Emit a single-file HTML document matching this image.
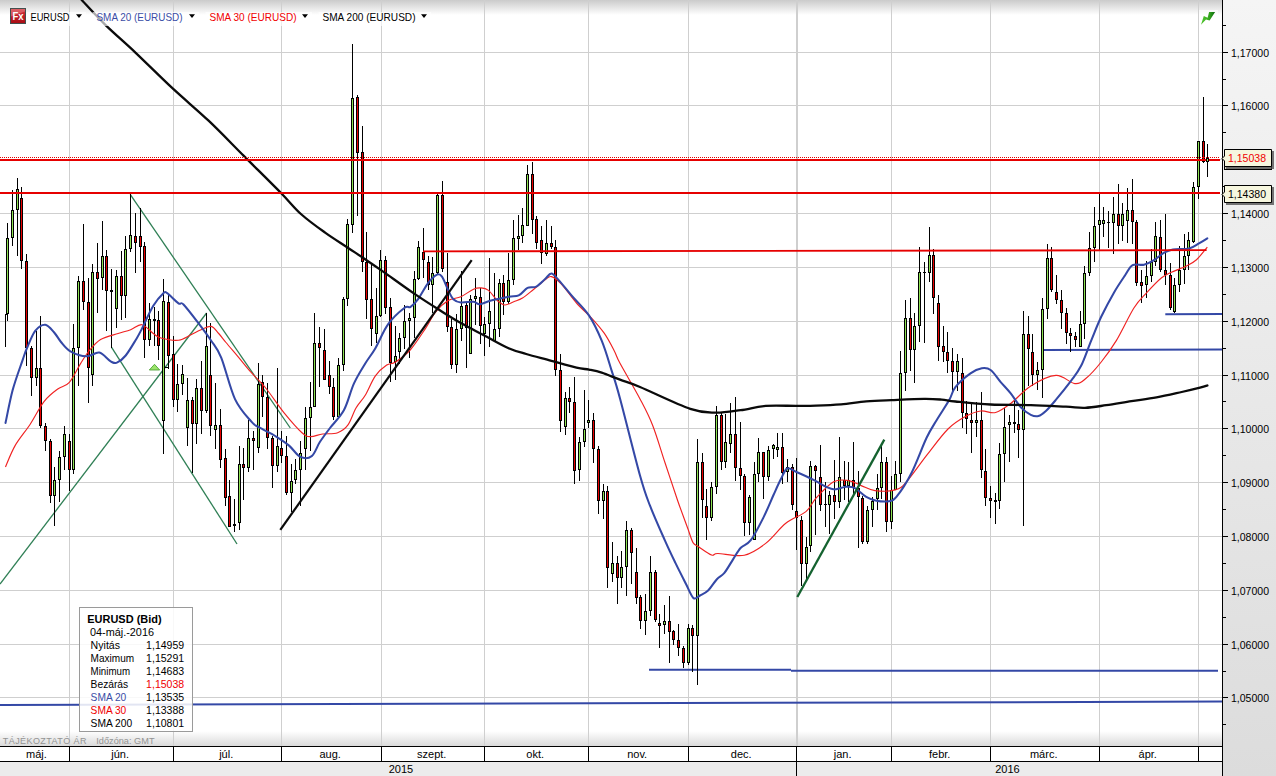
<!DOCTYPE html><html><head><meta charset="utf-8"><title>EURUSD</title><style>html,body{margin:0;padding:0;background:#fff;overflow:hidden}svg{display:block}text{font-family:"Liberation Sans",sans-serif}</style></head><body>
<svg width="1276" height="776" viewBox="0 0 1276 776">
<defs><linearGradient id="gt" x1="0" y1="0" x2="0" y2="1"><stop offset="0" stop-color="#cbcbcb"/><stop offset="1" stop-color="#ffffff"/></linearGradient><linearGradient id="gb" x1="0" y1="0" x2="0" y2="1"><stop offset="0" stop-color="#ffffff"/><stop offset="1" stop-color="#dadada"/></linearGradient><linearGradient id="gr" x1="0" y1="0" x2="0" y2="1"><stop offset="0" stop-color="#f5f5f5"/><stop offset="1" stop-color="#dcdcdc"/></linearGradient><linearGradient id="gfx" x1="0" y1="0" x2="0" y2="1"><stop offset="0" stop-color="#d8343c"/><stop offset="1" stop-color="#a80c14"/></linearGradient><linearGradient id="gic" x1="0" y1="0" x2="1" y2="0"><stop offset="0" stop-color="#4fc42c"/><stop offset="0.5" stop-color="#3cae22"/><stop offset="1" stop-color="#0c6a0c"/></linearGradient><clipPath id="cp"><rect x="0" y="0" width="1222" height="746"/></clipPath></defs>
<rect x="0" y="0" width="1276" height="776" fill="#ffffff"/>
<rect x="0" y="0" width="1222" height="15" fill="url(#gt)"/>
<rect x="0" y="731" width="1222" height="15" fill="url(#gb)"/>
<rect x="1223" y="0" width="53" height="776" fill="url(#gr)"/>
<g shape-rendering="crispEdges" stroke="#cfcfcf" stroke-width="1">
<line x1="69.5" y1="0" x2="69.5" y2="746"/>
<line x1="173.5" y1="0" x2="173.5" y2="746"/>
<line x1="281.5" y1="0" x2="281.5" y2="746"/>
<line x1="381.5" y1="0" x2="381.5" y2="746"/>
<line x1="484.5" y1="0" x2="484.5" y2="746"/>
<line x1="588.5" y1="0" x2="588.5" y2="746"/>
<line x1="688.5" y1="0" x2="688.5" y2="746"/>
<line x1="796.5" y1="0" x2="796.5" y2="746"/>
<line x1="891.5" y1="0" x2="891.5" y2="746"/>
<line x1="990.5" y1="0" x2="990.5" y2="746"/>
<line x1="1099.5" y1="0" x2="1099.5" y2="746"/>
<line x1="1198.5" y1="0" x2="1198.5" y2="746"/>
<line x1="797.5" y1="0" x2="797.5" y2="746"/>
<line x1="0" y1="52.5" x2="1222" y2="52.5"/>
<line x1="0" y1="105.5" x2="1222" y2="105.5"/>
<line x1="0" y1="159.5" x2="1222" y2="159.5"/>
<line x1="0" y1="213.5" x2="1222" y2="213.5"/>
<line x1="0" y1="267.5" x2="1222" y2="267.5"/>
<line x1="0" y1="321.5" x2="1222" y2="321.5"/>
<line x1="0" y1="375.5" x2="1222" y2="375.5"/>
<line x1="0" y1="428.5" x2="1222" y2="428.5"/>
<line x1="0" y1="482.5" x2="1222" y2="482.5"/>
<line x1="0" y1="536.5" x2="1222" y2="536.5"/>
<line x1="0" y1="590.5" x2="1222" y2="590.5"/>
<line x1="0" y1="644.5" x2="1222" y2="644.5"/>
<line x1="0" y1="697.5" x2="1222" y2="697.5"/>
</g>
<g clip-path="url(#cp)">
<g stroke="#3448a6" stroke-width="2" fill="none">
<line x1="0" y1="704.9" x2="1222" y2="701.6"/>
<line x1="649" y1="669.7" x2="791" y2="669.7"/><line x1="791" y1="670.8" x2="1218" y2="670.8"/>
<line x1="1042.6" y1="350" x2="1222" y2="349.5"/>
<line x1="1165.3" y1="314.3" x2="1222" y2="314"/>
</g>
<g stroke="#2f7f55" stroke-width="1.3" fill="none">
<line x1="0" y1="584" x2="206.6" y2="313"/>
<line x1="130.2" y1="194.4" x2="290.3" y2="428"/>
<line x1="111.6" y1="347.4" x2="237" y2="544"/>
</g>
<g shape-rendering="crispEdges">
<rect x="7" y="223" width="1" height="98" fill="#000"/>
<rect x="6" y="238" width="3" height="76" fill="#000"/>
<rect x="7" y="239" width="1" height="74" fill="#8ee253"/>
<rect x="12" y="190" width="1" height="56" fill="#000"/>
<rect x="11" y="210" width="3" height="28" fill="#000"/>
<rect x="12" y="211" width="1" height="26" fill="#8ee253"/>
<rect x="17" y="178" width="1" height="78" fill="#000"/>
<rect x="16" y="189" width="3" height="21" fill="#000"/>
<rect x="17" y="190" width="1" height="19" fill="#8ee253"/>
<rect x="21" y="187" width="1" height="82" fill="#000"/>
<rect x="20" y="198" width="3" height="63" fill="#000"/>
<rect x="21" y="199" width="1" height="61" fill="#e80000"/>
<rect x="26" y="254" width="1" height="112" fill="#000"/>
<rect x="25" y="261" width="3" height="87" fill="#000"/>
<rect x="26" y="262" width="1" height="85" fill="#e80000"/>
<rect x="31" y="346" width="1" height="50" fill="#000"/>
<rect x="30" y="348" width="3" height="30" fill="#000"/>
<rect x="31" y="349" width="1" height="28" fill="#e80000"/>
<rect x="36" y="331" width="1" height="55" fill="#000"/>
<rect x="35" y="368" width="3" height="10" fill="#000"/>
<rect x="36" y="369" width="1" height="8" fill="#8ee253"/>
<rect x="40" y="316" width="1" height="112" fill="#000"/>
<rect x="39" y="368" width="3" height="58" fill="#000"/>
<rect x="40" y="369" width="1" height="56" fill="#e80000"/>
<rect x="45" y="423" width="1" height="28" fill="#000"/>
<rect x="44" y="426" width="3" height="15" fill="#000"/>
<rect x="45" y="427" width="1" height="13" fill="#e80000"/>
<rect x="50" y="439" width="1" height="64" fill="#000"/>
<rect x="49" y="441" width="3" height="55" fill="#000"/>
<rect x="50" y="442" width="1" height="53" fill="#e80000"/>
<rect x="54" y="467" width="1" height="59" fill="#000"/>
<rect x="53" y="480" width="3" height="16" fill="#000"/>
<rect x="54" y="481" width="1" height="14" fill="#8ee253"/>
<rect x="59" y="451" width="1" height="51" fill="#000"/>
<rect x="58" y="457" width="3" height="23" fill="#000"/>
<rect x="59" y="458" width="1" height="21" fill="#8ee253"/>
<rect x="64" y="426" width="1" height="44" fill="#000"/>
<rect x="63" y="434" width="3" height="23" fill="#000"/>
<rect x="64" y="435" width="1" height="21" fill="#8ee253"/>
<rect x="69" y="434" width="1" height="57" fill="#000"/>
<rect x="68" y="441" width="3" height="29" fill="#000"/>
<rect x="69" y="442" width="1" height="27" fill="#e80000"/>
<rect x="73" y="324" width="1" height="150" fill="#000"/>
<rect x="72" y="348" width="3" height="122" fill="#000"/>
<rect x="73" y="349" width="1" height="120" fill="#8ee253"/>
<rect x="78" y="276" width="1" height="110" fill="#000"/>
<rect x="77" y="281" width="3" height="67" fill="#000"/>
<rect x="78" y="282" width="1" height="65" fill="#8ee253"/>
<rect x="83" y="224" width="1" height="86" fill="#000"/>
<rect x="82" y="281" width="3" height="21" fill="#000"/>
<rect x="83" y="282" width="1" height="19" fill="#e80000"/>
<rect x="88" y="278" width="1" height="125" fill="#000"/>
<rect x="87" y="302" width="3" height="66" fill="#000"/>
<rect x="88" y="303" width="1" height="64" fill="#e80000"/>
<rect x="92" y="264" width="1" height="122" fill="#000"/>
<rect x="91" y="272" width="3" height="103" fill="#000"/>
<rect x="92" y="273" width="1" height="101" fill="#8ee253"/>
<rect x="97" y="243" width="1" height="70" fill="#000"/>
<rect x="96" y="272" width="3" height="7" fill="#000"/>
<rect x="97" y="273" width="1" height="5" fill="#e80000"/>
<rect x="102" y="221" width="1" height="69" fill="#000"/>
<rect x="101" y="256" width="3" height="22" fill="#000"/>
<rect x="102" y="257" width="1" height="20" fill="#8ee253"/>
<rect x="106" y="250" width="1" height="81" fill="#000"/>
<rect x="105" y="256" width="3" height="35" fill="#000"/>
<rect x="106" y="257" width="1" height="33" fill="#e80000"/>
<rect x="111" y="269" width="1" height="79" fill="#000"/>
<rect x="110" y="290" width="3" height="2" fill="#000"/>
<rect x="116" y="270" width="1" height="58" fill="#000"/>
<rect x="115" y="276" width="3" height="33" fill="#000"/>
<rect x="116" y="277" width="1" height="31" fill="#8ee253"/>
<rect x="121" y="251" width="1" height="69" fill="#000"/>
<rect x="120" y="276" width="3" height="20" fill="#000"/>
<rect x="121" y="277" width="1" height="18" fill="#e80000"/>
<rect x="125" y="236" width="1" height="82" fill="#000"/>
<rect x="124" y="249" width="3" height="47" fill="#000"/>
<rect x="125" y="250" width="1" height="45" fill="#8ee253"/>
<rect x="130" y="194" width="1" height="58" fill="#000"/>
<rect x="129" y="235" width="3" height="14" fill="#000"/>
<rect x="130" y="236" width="1" height="12" fill="#8ee253"/>
<rect x="135" y="213" width="1" height="60" fill="#000"/>
<rect x="134" y="236" width="3" height="7" fill="#000"/>
<rect x="135" y="237" width="1" height="5" fill="#e80000"/>
<rect x="140" y="208" width="1" height="54" fill="#000"/>
<rect x="139" y="236" width="3" height="11" fill="#000"/>
<rect x="140" y="237" width="1" height="9" fill="#e80000"/>
<rect x="144" y="242" width="1" height="116" fill="#000"/>
<rect x="143" y="246" width="3" height="94" fill="#000"/>
<rect x="144" y="247" width="1" height="92" fill="#e80000"/>
<rect x="149" y="303" width="1" height="43" fill="#000"/>
<rect x="148" y="319" width="3" height="21" fill="#000"/>
<rect x="149" y="320" width="1" height="19" fill="#8ee253"/>
<rect x="154" y="307" width="1" height="39" fill="#000"/>
<rect x="153" y="319" width="3" height="2" fill="#000"/>
<rect x="158" y="311" width="1" height="49" fill="#000"/>
<rect x="157" y="320" width="3" height="26" fill="#000"/>
<rect x="158" y="321" width="1" height="24" fill="#e80000"/>
<rect x="163" y="279" width="1" height="175" fill="#000"/>
<rect x="162" y="301" width="3" height="120" fill="#000"/>
<rect x="163" y="302" width="1" height="118" fill="#8ee253"/>
<rect x="168" y="295" width="1" height="74" fill="#000"/>
<rect x="167" y="302" width="3" height="54" fill="#000"/>
<rect x="168" y="303" width="1" height="52" fill="#e80000"/>
<rect x="173" y="336" width="1" height="71" fill="#000"/>
<rect x="172" y="354" width="3" height="46" fill="#000"/>
<rect x="173" y="355" width="1" height="44" fill="#e80000"/>
<rect x="177" y="364" width="1" height="48" fill="#000"/>
<rect x="176" y="384" width="3" height="16" fill="#000"/>
<rect x="177" y="385" width="1" height="14" fill="#8ee253"/>
<rect x="182" y="365" width="1" height="30" fill="#000"/>
<rect x="181" y="374" width="3" height="10" fill="#000"/>
<rect x="182" y="375" width="1" height="8" fill="#8ee253"/>
<rect x="187" y="378" width="1" height="68" fill="#000"/>
<rect x="186" y="400" width="3" height="28" fill="#000"/>
<rect x="187" y="401" width="1" height="26" fill="#8ee253"/>
<rect x="192" y="397" width="1" height="76" fill="#000"/>
<rect x="191" y="400" width="3" height="24" fill="#000"/>
<rect x="192" y="401" width="1" height="22" fill="#e80000"/>
<rect x="196" y="379" width="1" height="65" fill="#000"/>
<rect x="195" y="388" width="3" height="36" fill="#000"/>
<rect x="196" y="389" width="1" height="34" fill="#8ee253"/>
<rect x="201" y="361" width="1" height="73" fill="#000"/>
<rect x="200" y="388" width="3" height="23" fill="#000"/>
<rect x="201" y="389" width="1" height="21" fill="#e80000"/>
<rect x="206" y="313" width="1" height="100" fill="#000"/>
<rect x="205" y="346" width="3" height="65" fill="#000"/>
<rect x="206" y="347" width="1" height="63" fill="#8ee253"/>
<rect x="210" y="323" width="1" height="113" fill="#000"/>
<rect x="209" y="375" width="3" height="51" fill="#000"/>
<rect x="210" y="376" width="1" height="49" fill="#e80000"/>
<rect x="215" y="383" width="1" height="66" fill="#000"/>
<rect x="214" y="425" width="3" height="5" fill="#000"/>
<rect x="215" y="426" width="1" height="3" fill="#8ee253"/>
<rect x="220" y="409" width="1" height="59" fill="#000"/>
<rect x="219" y="425" width="3" height="35" fill="#000"/>
<rect x="220" y="426" width="1" height="33" fill="#e80000"/>
<rect x="225" y="449" width="1" height="57" fill="#000"/>
<rect x="224" y="458" width="3" height="40" fill="#000"/>
<rect x="225" y="459" width="1" height="38" fill="#e80000"/>
<rect x="229" y="480" width="1" height="47" fill="#000"/>
<rect x="228" y="496" width="3" height="31" fill="#000"/>
<rect x="229" y="497" width="1" height="29" fill="#e80000"/>
<rect x="234" y="499" width="1" height="33" fill="#000"/>
<rect x="233" y="524" width="3" height="2" fill="#000"/>
<rect x="239" y="446" width="1" height="84" fill="#000"/>
<rect x="238" y="464" width="3" height="59" fill="#000"/>
<rect x="239" y="465" width="1" height="57" fill="#8ee253"/>
<rect x="243" y="448" width="1" height="52" fill="#000"/>
<rect x="242" y="464" width="3" height="4" fill="#000"/>
<rect x="243" y="465" width="1" height="2" fill="#e80000"/>
<rect x="248" y="420" width="1" height="52" fill="#000"/>
<rect x="247" y="438" width="3" height="30" fill="#000"/>
<rect x="248" y="439" width="1" height="28" fill="#8ee253"/>
<rect x="253" y="431" width="1" height="39" fill="#000"/>
<rect x="252" y="438" width="3" height="3" fill="#000"/>
<rect x="253" y="439" width="1" height="1" fill="#e80000"/>
<rect x="258" y="363" width="1" height="90" fill="#000"/>
<rect x="257" y="384" width="3" height="64" fill="#000"/>
<rect x="258" y="385" width="1" height="62" fill="#8ee253"/>
<rect x="262" y="375" width="1" height="42" fill="#000"/>
<rect x="261" y="382" width="3" height="15" fill="#000"/>
<rect x="262" y="383" width="1" height="13" fill="#e80000"/>
<rect x="267" y="383" width="1" height="66" fill="#000"/>
<rect x="266" y="397" width="3" height="41" fill="#000"/>
<rect x="267" y="398" width="1" height="39" fill="#e80000"/>
<rect x="272" y="436" width="1" height="52" fill="#000"/>
<rect x="271" y="438" width="3" height="28" fill="#000"/>
<rect x="272" y="439" width="1" height="26" fill="#e80000"/>
<rect x="277" y="368" width="1" height="104" fill="#000"/>
<rect x="276" y="446" width="3" height="20" fill="#000"/>
<rect x="277" y="447" width="1" height="18" fill="#8ee253"/>
<rect x="281" y="431" width="1" height="32" fill="#000"/>
<rect x="280" y="448" width="3" height="8" fill="#000"/>
<rect x="281" y="449" width="1" height="6" fill="#e80000"/>
<rect x="286" y="436" width="1" height="59" fill="#000"/>
<rect x="285" y="456" width="3" height="37" fill="#000"/>
<rect x="286" y="457" width="1" height="35" fill="#e80000"/>
<rect x="291" y="464" width="1" height="48" fill="#000"/>
<rect x="290" y="481" width="3" height="12" fill="#000"/>
<rect x="291" y="482" width="1" height="10" fill="#8ee253"/>
<rect x="295" y="459" width="1" height="25" fill="#000"/>
<rect x="294" y="470" width="3" height="10" fill="#000"/>
<rect x="295" y="471" width="1" height="8" fill="#8ee253"/>
<rect x="300" y="441" width="1" height="65" fill="#000"/>
<rect x="299" y="453" width="3" height="17" fill="#000"/>
<rect x="300" y="454" width="1" height="15" fill="#8ee253"/>
<rect x="305" y="407" width="1" height="63" fill="#000"/>
<rect x="304" y="418" width="3" height="31" fill="#000"/>
<rect x="305" y="419" width="1" height="29" fill="#8ee253"/>
<rect x="310" y="382" width="1" height="69" fill="#000"/>
<rect x="309" y="407" width="3" height="11" fill="#000"/>
<rect x="310" y="408" width="1" height="9" fill="#8ee253"/>
<rect x="314" y="313" width="1" height="94" fill="#000"/>
<rect x="313" y="343" width="3" height="64" fill="#000"/>
<rect x="314" y="344" width="1" height="62" fill="#8ee253"/>
<rect x="319" y="327" width="1" height="60" fill="#000"/>
<rect x="318" y="343" width="3" height="5" fill="#000"/>
<rect x="319" y="344" width="1" height="3" fill="#e80000"/>
<rect x="324" y="329" width="1" height="51" fill="#000"/>
<rect x="323" y="350" width="3" height="30" fill="#000"/>
<rect x="324" y="351" width="1" height="28" fill="#e80000"/>
<rect x="329" y="361" width="1" height="33" fill="#000"/>
<rect x="328" y="375" width="3" height="12" fill="#000"/>
<rect x="329" y="376" width="1" height="10" fill="#e80000"/>
<rect x="333" y="378" width="1" height="42" fill="#000"/>
<rect x="332" y="387" width="3" height="30" fill="#000"/>
<rect x="333" y="388" width="1" height="28" fill="#e80000"/>
<rect x="338" y="358" width="1" height="61" fill="#000"/>
<rect x="337" y="365" width="3" height="52" fill="#000"/>
<rect x="338" y="366" width="1" height="50" fill="#8ee253"/>
<rect x="343" y="297" width="1" height="74" fill="#000"/>
<rect x="342" y="299" width="3" height="66" fill="#000"/>
<rect x="343" y="300" width="1" height="64" fill="#8ee253"/>
<rect x="347" y="219" width="1" height="87" fill="#000"/>
<rect x="346" y="224" width="3" height="75" fill="#000"/>
<rect x="347" y="225" width="1" height="73" fill="#8ee253"/>
<rect x="352" y="44" width="1" height="189" fill="#000"/>
<rect x="351" y="98" width="3" height="127" fill="#000"/>
<rect x="352" y="99" width="1" height="125" fill="#8ee253"/>
<rect x="357" y="95" width="1" height="121" fill="#000"/>
<rect x="356" y="97" width="3" height="56" fill="#000"/>
<rect x="357" y="98" width="1" height="54" fill="#e80000"/>
<rect x="362" y="126" width="1" height="146" fill="#000"/>
<rect x="361" y="152" width="3" height="110" fill="#000"/>
<rect x="362" y="153" width="1" height="108" fill="#e80000"/>
<rect x="366" y="232" width="1" height="87" fill="#000"/>
<rect x="365" y="262" width="3" height="38" fill="#000"/>
<rect x="366" y="263" width="1" height="36" fill="#e80000"/>
<rect x="371" y="263" width="1" height="83" fill="#000"/>
<rect x="370" y="299" width="3" height="30" fill="#000"/>
<rect x="371" y="300" width="1" height="28" fill="#e80000"/>
<rect x="376" y="288" width="1" height="55" fill="#000"/>
<rect x="375" y="316" width="3" height="18" fill="#000"/>
<rect x="376" y="317" width="1" height="16" fill="#8ee253"/>
<rect x="380" y="250" width="1" height="67" fill="#000"/>
<rect x="379" y="260" width="3" height="56" fill="#000"/>
<rect x="380" y="261" width="1" height="54" fill="#8ee253"/>
<rect x="385" y="256" width="1" height="58" fill="#000"/>
<rect x="384" y="260" width="3" height="48" fill="#000"/>
<rect x="385" y="261" width="1" height="46" fill="#e80000"/>
<rect x="390" y="298" width="1" height="84" fill="#000"/>
<rect x="389" y="307" width="3" height="56" fill="#000"/>
<rect x="390" y="308" width="1" height="54" fill="#e80000"/>
<rect x="395" y="326" width="1" height="54" fill="#000"/>
<rect x="394" y="356" width="3" height="6" fill="#000"/>
<rect x="395" y="357" width="1" height="4" fill="#8ee253"/>
<rect x="399" y="333" width="1" height="31" fill="#000"/>
<rect x="398" y="338" width="3" height="14" fill="#000"/>
<rect x="399" y="339" width="1" height="12" fill="#8ee253"/>
<rect x="404" y="305" width="1" height="44" fill="#000"/>
<rect x="403" y="321" width="3" height="17" fill="#000"/>
<rect x="404" y="322" width="1" height="15" fill="#8ee253"/>
<rect x="409" y="313" width="1" height="45" fill="#000"/>
<rect x="408" y="318" width="3" height="3" fill="#000"/>
<rect x="409" y="319" width="1" height="1" fill="#8ee253"/>
<rect x="414" y="271" width="1" height="67" fill="#000"/>
<rect x="413" y="279" width="3" height="39" fill="#000"/>
<rect x="414" y="280" width="1" height="37" fill="#8ee253"/>
<rect x="418" y="241" width="1" height="39" fill="#000"/>
<rect x="417" y="247" width="3" height="32" fill="#000"/>
<rect x="418" y="248" width="1" height="30" fill="#8ee253"/>
<rect x="423" y="228" width="1" height="50" fill="#000"/>
<rect x="422" y="252" width="3" height="8" fill="#000"/>
<rect x="423" y="253" width="1" height="6" fill="#e80000"/>
<rect x="428" y="256" width="1" height="34" fill="#000"/>
<rect x="427" y="262" width="3" height="23" fill="#000"/>
<rect x="428" y="263" width="1" height="21" fill="#e80000"/>
<rect x="432" y="257" width="1" height="56" fill="#000"/>
<rect x="431" y="273" width="3" height="12" fill="#000"/>
<rect x="432" y="274" width="1" height="10" fill="#8ee253"/>
<rect x="437" y="194" width="1" height="81" fill="#000"/>
<rect x="436" y="195" width="3" height="78" fill="#000"/>
<rect x="437" y="196" width="1" height="76" fill="#8ee253"/>
<rect x="442" y="181" width="1" height="91" fill="#000"/>
<rect x="441" y="195" width="3" height="74" fill="#000"/>
<rect x="442" y="196" width="1" height="72" fill="#e80000"/>
<rect x="447" y="253" width="1" height="79" fill="#000"/>
<rect x="446" y="282" width="3" height="45" fill="#000"/>
<rect x="447" y="283" width="1" height="43" fill="#e80000"/>
<rect x="451" y="319" width="1" height="50" fill="#000"/>
<rect x="450" y="327" width="3" height="38" fill="#000"/>
<rect x="451" y="328" width="1" height="36" fill="#e80000"/>
<rect x="456" y="314" width="1" height="59" fill="#000"/>
<rect x="455" y="329" width="3" height="36" fill="#000"/>
<rect x="456" y="330" width="1" height="34" fill="#8ee253"/>
<rect x="461" y="271" width="1" height="70" fill="#000"/>
<rect x="460" y="306" width="3" height="23" fill="#000"/>
<rect x="461" y="307" width="1" height="21" fill="#8ee253"/>
<rect x="466" y="303" width="1" height="65" fill="#000"/>
<rect x="465" y="305" width="3" height="23" fill="#000"/>
<rect x="466" y="306" width="1" height="21" fill="#e80000"/>
<rect x="470" y="295" width="1" height="59" fill="#000"/>
<rect x="469" y="299" width="3" height="55" fill="#000"/>
<rect x="470" y="300" width="1" height="53" fill="#8ee253"/>
<rect x="475" y="278" width="1" height="47" fill="#000"/>
<rect x="474" y="296" width="3" height="3" fill="#000"/>
<rect x="475" y="297" width="1" height="1" fill="#8ee253"/>
<rect x="480" y="288" width="1" height="56" fill="#000"/>
<rect x="479" y="297" width="3" height="29" fill="#000"/>
<rect x="480" y="298" width="1" height="27" fill="#e80000"/>
<rect x="484" y="317" width="1" height="39" fill="#000"/>
<rect x="483" y="324" width="3" height="10" fill="#000"/>
<rect x="484" y="325" width="1" height="8" fill="#8ee253"/>
<rect x="489" y="258" width="1" height="89" fill="#000"/>
<rect x="488" y="311" width="3" height="13" fill="#000"/>
<rect x="489" y="312" width="1" height="11" fill="#8ee253"/>
<rect x="494" y="273" width="1" height="68" fill="#000"/>
<rect x="493" y="329" width="3" height="12" fill="#000"/>
<rect x="494" y="330" width="1" height="10" fill="#8ee253"/>
<rect x="499" y="279" width="1" height="58" fill="#000"/>
<rect x="498" y="283" width="3" height="46" fill="#000"/>
<rect x="499" y="284" width="1" height="44" fill="#8ee253"/>
<rect x="503" y="275" width="1" height="40" fill="#000"/>
<rect x="502" y="283" width="3" height="19" fill="#000"/>
<rect x="503" y="284" width="1" height="17" fill="#e80000"/>
<rect x="508" y="253" width="1" height="51" fill="#000"/>
<rect x="507" y="280" width="3" height="22" fill="#000"/>
<rect x="508" y="281" width="1" height="20" fill="#8ee253"/>
<rect x="513" y="220" width="1" height="65" fill="#000"/>
<rect x="512" y="238" width="3" height="42" fill="#000"/>
<rect x="513" y="239" width="1" height="40" fill="#8ee253"/>
<rect x="518" y="215" width="1" height="35" fill="#000"/>
<rect x="517" y="236" width="3" height="3" fill="#000"/>
<rect x="518" y="237" width="1" height="1" fill="#8ee253"/>
<rect x="522" y="208" width="1" height="35" fill="#000"/>
<rect x="521" y="225" width="3" height="11" fill="#000"/>
<rect x="522" y="226" width="1" height="9" fill="#8ee253"/>
<rect x="527" y="165" width="1" height="61" fill="#000"/>
<rect x="526" y="174" width="3" height="52" fill="#000"/>
<rect x="527" y="175" width="1" height="50" fill="#8ee253"/>
<rect x="532" y="162" width="1" height="72" fill="#000"/>
<rect x="531" y="174" width="3" height="46" fill="#000"/>
<rect x="532" y="175" width="1" height="44" fill="#e80000"/>
<rect x="536" y="216" width="1" height="33" fill="#000"/>
<rect x="535" y="219" width="3" height="24" fill="#000"/>
<rect x="536" y="220" width="1" height="22" fill="#e80000"/>
<rect x="541" y="226" width="1" height="38" fill="#000"/>
<rect x="540" y="240" width="3" height="13" fill="#000"/>
<rect x="541" y="241" width="1" height="11" fill="#e80000"/>
<rect x="546" y="220" width="1" height="36" fill="#000"/>
<rect x="545" y="243" width="3" height="11" fill="#000"/>
<rect x="546" y="244" width="1" height="9" fill="#8ee253"/>
<rect x="551" y="226" width="1" height="23" fill="#000"/>
<rect x="550" y="243" width="3" height="4" fill="#000"/>
<rect x="551" y="244" width="1" height="2" fill="#e80000"/>
<rect x="555" y="240" width="1" height="136" fill="#000"/>
<rect x="554" y="247" width="3" height="123" fill="#000"/>
<rect x="555" y="248" width="1" height="121" fill="#e80000"/>
<rect x="560" y="354" width="1" height="78" fill="#000"/>
<rect x="559" y="370" width="3" height="51" fill="#000"/>
<rect x="560" y="371" width="1" height="49" fill="#e80000"/>
<rect x="565" y="392" width="1" height="43" fill="#000"/>
<rect x="564" y="398" width="3" height="29" fill="#000"/>
<rect x="565" y="399" width="1" height="27" fill="#8ee253"/>
<rect x="569" y="387" width="1" height="26" fill="#000"/>
<rect x="568" y="398" width="3" height="4" fill="#000"/>
<rect x="569" y="399" width="1" height="2" fill="#e80000"/>
<rect x="574" y="377" width="1" height="107" fill="#000"/>
<rect x="573" y="402" width="3" height="69" fill="#000"/>
<rect x="574" y="403" width="1" height="67" fill="#e80000"/>
<rect x="579" y="437" width="1" height="44" fill="#000"/>
<rect x="578" y="442" width="3" height="28" fill="#000"/>
<rect x="579" y="443" width="1" height="26" fill="#8ee253"/>
<rect x="584" y="390" width="1" height="57" fill="#000"/>
<rect x="583" y="429" width="3" height="13" fill="#000"/>
<rect x="584" y="430" width="1" height="11" fill="#8ee253"/>
<rect x="588" y="400" width="1" height="28" fill="#000"/>
<rect x="587" y="420" width="3" height="3" fill="#000"/>
<rect x="588" y="421" width="1" height="1" fill="#8ee253"/>
<rect x="593" y="413" width="1" height="50" fill="#000"/>
<rect x="592" y="420" width="3" height="29" fill="#000"/>
<rect x="593" y="421" width="1" height="27" fill="#e80000"/>
<rect x="598" y="446" width="1" height="68" fill="#000"/>
<rect x="597" y="449" width="3" height="52" fill="#000"/>
<rect x="598" y="450" width="1" height="50" fill="#e80000"/>
<rect x="603" y="484" width="1" height="35" fill="#000"/>
<rect x="602" y="491" width="3" height="10" fill="#000"/>
<rect x="603" y="492" width="1" height="8" fill="#8ee253"/>
<rect x="607" y="486" width="1" height="102" fill="#000"/>
<rect x="606" y="491" width="3" height="77" fill="#000"/>
<rect x="607" y="492" width="1" height="75" fill="#e80000"/>
<rect x="612" y="542" width="1" height="40" fill="#000"/>
<rect x="611" y="563" width="3" height="11" fill="#000"/>
<rect x="612" y="564" width="1" height="9" fill="#8ee253"/>
<rect x="617" y="556" width="1" height="48" fill="#000"/>
<rect x="616" y="563" width="3" height="15" fill="#000"/>
<rect x="617" y="564" width="1" height="13" fill="#e80000"/>
<rect x="621" y="551" width="1" height="37" fill="#000"/>
<rect x="620" y="567" width="3" height="11" fill="#000"/>
<rect x="621" y="568" width="1" height="9" fill="#8ee253"/>
<rect x="626" y="521" width="1" height="75" fill="#000"/>
<rect x="625" y="530" width="3" height="37" fill="#000"/>
<rect x="626" y="531" width="1" height="35" fill="#8ee253"/>
<rect x="631" y="528" width="1" height="56" fill="#000"/>
<rect x="630" y="530" width="3" height="23" fill="#000"/>
<rect x="631" y="531" width="1" height="21" fill="#e80000"/>
<rect x="636" y="548" width="1" height="56" fill="#000"/>
<rect x="635" y="572" width="3" height="26" fill="#000"/>
<rect x="636" y="573" width="1" height="24" fill="#e80000"/>
<rect x="640" y="595" width="1" height="34" fill="#000"/>
<rect x="639" y="597" width="3" height="24" fill="#000"/>
<rect x="640" y="598" width="1" height="22" fill="#e80000"/>
<rect x="645" y="594" width="1" height="41" fill="#000"/>
<rect x="644" y="611" width="3" height="10" fill="#000"/>
<rect x="645" y="612" width="1" height="8" fill="#8ee253"/>
<rect x="650" y="556" width="1" height="60" fill="#000"/>
<rect x="649" y="572" width="3" height="39" fill="#000"/>
<rect x="650" y="573" width="1" height="37" fill="#8ee253"/>
<rect x="655" y="570" width="1" height="52" fill="#000"/>
<rect x="654" y="572" width="3" height="48" fill="#000"/>
<rect x="655" y="573" width="1" height="46" fill="#e80000"/>
<rect x="659" y="614" width="1" height="34" fill="#000"/>
<rect x="658" y="623" width="3" height="3" fill="#000"/>
<rect x="659" y="624" width="1" height="1" fill="#e80000"/>
<rect x="664" y="605" width="1" height="29" fill="#000"/>
<rect x="663" y="621" width="3" height="4" fill="#000"/>
<rect x="664" y="622" width="1" height="2" fill="#8ee253"/>
<rect x="669" y="596" width="1" height="67" fill="#000"/>
<rect x="668" y="621" width="3" height="11" fill="#000"/>
<rect x="669" y="622" width="1" height="9" fill="#e80000"/>
<rect x="673" y="630" width="1" height="15" fill="#000"/>
<rect x="672" y="631" width="3" height="9" fill="#000"/>
<rect x="673" y="632" width="1" height="7" fill="#e80000"/>
<rect x="678" y="624" width="1" height="32" fill="#000"/>
<rect x="677" y="640" width="3" height="8" fill="#000"/>
<rect x="678" y="641" width="1" height="6" fill="#e80000"/>
<rect x="683" y="646" width="1" height="22" fill="#000"/>
<rect x="682" y="648" width="3" height="15" fill="#000"/>
<rect x="683" y="649" width="1" height="13" fill="#e80000"/>
<rect x="688" y="624" width="1" height="41" fill="#000"/>
<rect x="687" y="628" width="3" height="35" fill="#000"/>
<rect x="688" y="629" width="1" height="33" fill="#8ee253"/>
<rect x="692" y="625" width="1" height="47" fill="#000"/>
<rect x="691" y="628" width="3" height="8" fill="#000"/>
<rect x="692" y="629" width="1" height="6" fill="#e80000"/>
<rect x="697" y="439" width="1" height="246" fill="#000"/>
<rect x="696" y="462" width="3" height="174" fill="#000"/>
<rect x="697" y="463" width="1" height="172" fill="#8ee253"/>
<rect x="702" y="453" width="1" height="65" fill="#000"/>
<rect x="701" y="462" width="3" height="38" fill="#000"/>
<rect x="702" y="463" width="1" height="36" fill="#e80000"/>
<rect x="706" y="489" width="1" height="51" fill="#000"/>
<rect x="705" y="506" width="3" height="12" fill="#000"/>
<rect x="706" y="507" width="1" height="10" fill="#e80000"/>
<rect x="711" y="482" width="1" height="39" fill="#000"/>
<rect x="710" y="487" width="3" height="31" fill="#000"/>
<rect x="711" y="488" width="1" height="29" fill="#8ee253"/>
<rect x="716" y="406" width="1" height="88" fill="#000"/>
<rect x="715" y="415" width="3" height="72" fill="#000"/>
<rect x="716" y="416" width="1" height="70" fill="#8ee253"/>
<rect x="721" y="413" width="1" height="57" fill="#000"/>
<rect x="720" y="415" width="3" height="47" fill="#000"/>
<rect x="721" y="416" width="1" height="45" fill="#e80000"/>
<rect x="725" y="414" width="1" height="54" fill="#000"/>
<rect x="724" y="442" width="3" height="20" fill="#000"/>
<rect x="725" y="443" width="1" height="18" fill="#8ee253"/>
<rect x="730" y="403" width="1" height="50" fill="#000"/>
<rect x="729" y="434" width="3" height="10" fill="#000"/>
<rect x="730" y="435" width="1" height="8" fill="#8ee253"/>
<rect x="735" y="397" width="1" height="84" fill="#000"/>
<rect x="734" y="434" width="3" height="34" fill="#000"/>
<rect x="735" y="435" width="1" height="32" fill="#e80000"/>
<rect x="740" y="422" width="1" height="68" fill="#000"/>
<rect x="739" y="468" width="3" height="8" fill="#000"/>
<rect x="740" y="469" width="1" height="6" fill="#e80000"/>
<rect x="744" y="474" width="1" height="62" fill="#000"/>
<rect x="743" y="476" width="3" height="47" fill="#000"/>
<rect x="744" y="477" width="1" height="45" fill="#e80000"/>
<rect x="749" y="495" width="1" height="40" fill="#000"/>
<rect x="748" y="497" width="3" height="26" fill="#000"/>
<rect x="749" y="498" width="1" height="24" fill="#8ee253"/>
<rect x="754" y="462" width="1" height="78" fill="#000"/>
<rect x="753" y="474" width="3" height="66" fill="#000"/>
<rect x="754" y="475" width="1" height="64" fill="#8ee253"/>
<rect x="758" y="438" width="1" height="44" fill="#000"/>
<rect x="757" y="452" width="3" height="22" fill="#000"/>
<rect x="758" y="453" width="1" height="20" fill="#8ee253"/>
<rect x="763" y="452" width="1" height="47" fill="#000"/>
<rect x="762" y="452" width="3" height="25" fill="#000"/>
<rect x="763" y="453" width="1" height="23" fill="#e80000"/>
<rect x="768" y="446" width="1" height="35" fill="#000"/>
<rect x="767" y="450" width="3" height="27" fill="#000"/>
<rect x="768" y="451" width="1" height="25" fill="#8ee253"/>
<rect x="773" y="444" width="1" height="15" fill="#000"/>
<rect x="772" y="445" width="3" height="4" fill="#000"/>
<rect x="773" y="446" width="1" height="2" fill="#8ee253"/>
<rect x="777" y="433" width="1" height="24" fill="#000"/>
<rect x="776" y="447" width="3" height="3" fill="#000"/>
<rect x="777" y="448" width="1" height="1" fill="#8ee253"/>
<rect x="782" y="433" width="1" height="51" fill="#000"/>
<rect x="781" y="447" width="3" height="26" fill="#000"/>
<rect x="782" y="448" width="1" height="24" fill="#e80000"/>
<rect x="787" y="459" width="1" height="23" fill="#000"/>
<rect x="786" y="467" width="3" height="5" fill="#000"/>
<rect x="787" y="468" width="1" height="3" fill="#8ee253"/>
<rect x="792" y="464" width="1" height="46" fill="#000"/>
<rect x="791" y="467" width="3" height="38" fill="#000"/>
<rect x="792" y="468" width="1" height="36" fill="#e80000"/>
<rect x="796" y="458" width="1" height="92" fill="#000"/>
<rect x="795" y="511" width="3" height="7" fill="#000"/>
<rect x="796" y="512" width="1" height="5" fill="#e80000"/>
<rect x="801" y="516" width="1" height="70" fill="#000"/>
<rect x="800" y="520" width="3" height="44" fill="#000"/>
<rect x="801" y="521" width="1" height="42" fill="#e80000"/>
<rect x="806" y="537" width="1" height="42" fill="#000"/>
<rect x="805" y="547" width="3" height="17" fill="#000"/>
<rect x="806" y="548" width="1" height="15" fill="#8ee253"/>
<rect x="810" y="461" width="1" height="91" fill="#000"/>
<rect x="809" y="466" width="3" height="80" fill="#000"/>
<rect x="810" y="467" width="1" height="78" fill="#8ee253"/>
<rect x="815" y="465" width="1" height="70" fill="#000"/>
<rect x="814" y="466" width="3" height="5" fill="#000"/>
<rect x="815" y="467" width="1" height="3" fill="#e80000"/>
<rect x="820" y="445" width="1" height="66" fill="#000"/>
<rect x="819" y="477" width="3" height="28" fill="#000"/>
<rect x="820" y="478" width="1" height="26" fill="#e80000"/>
<rect x="825" y="482" width="1" height="45" fill="#000"/>
<rect x="824" y="504" width="3" height="1" fill="#000"/>
<rect x="829" y="491" width="1" height="43" fill="#000"/>
<rect x="828" y="495" width="3" height="10" fill="#000"/>
<rect x="829" y="496" width="1" height="8" fill="#8ee253"/>
<rect x="834" y="460" width="1" height="59" fill="#000"/>
<rect x="833" y="495" width="3" height="7" fill="#000"/>
<rect x="834" y="496" width="1" height="5" fill="#e80000"/>
<rect x="839" y="437" width="1" height="71" fill="#000"/>
<rect x="838" y="477" width="3" height="25" fill="#000"/>
<rect x="839" y="478" width="1" height="23" fill="#8ee253"/>
<rect x="844" y="461" width="1" height="39" fill="#000"/>
<rect x="843" y="480" width="3" height="6" fill="#000"/>
<rect x="844" y="481" width="1" height="4" fill="#e80000"/>
<rect x="848" y="462" width="1" height="40" fill="#000"/>
<rect x="847" y="480" width="3" height="6" fill="#000"/>
<rect x="848" y="481" width="1" height="4" fill="#8ee253"/>
<rect x="853" y="442" width="1" height="55" fill="#000"/>
<rect x="852" y="480" width="3" height="8" fill="#000"/>
<rect x="853" y="481" width="1" height="6" fill="#e80000"/>
<rect x="858" y="471" width="1" height="77" fill="#000"/>
<rect x="857" y="488" width="3" height="9" fill="#000"/>
<rect x="858" y="489" width="1" height="7" fill="#e80000"/>
<rect x="862" y="496" width="1" height="48" fill="#000"/>
<rect x="861" y="498" width="3" height="44" fill="#000"/>
<rect x="862" y="499" width="1" height="42" fill="#e80000"/>
<rect x="867" y="506" width="1" height="38" fill="#000"/>
<rect x="866" y="510" width="3" height="32" fill="#000"/>
<rect x="867" y="511" width="1" height="30" fill="#8ee253"/>
<rect x="872" y="497" width="1" height="30" fill="#000"/>
<rect x="871" y="501" width="3" height="9" fill="#000"/>
<rect x="872" y="502" width="1" height="7" fill="#8ee253"/>
<rect x="877" y="474" width="1" height="36" fill="#000"/>
<rect x="876" y="488" width="3" height="11" fill="#000"/>
<rect x="877" y="489" width="1" height="9" fill="#8ee253"/>
<rect x="881" y="446" width="1" height="53" fill="#000"/>
<rect x="880" y="462" width="3" height="26" fill="#000"/>
<rect x="881" y="463" width="1" height="24" fill="#8ee253"/>
<rect x="886" y="457" width="1" height="75" fill="#000"/>
<rect x="885" y="462" width="3" height="60" fill="#000"/>
<rect x="886" y="463" width="1" height="58" fill="#e80000"/>
<rect x="891" y="476" width="1" height="53" fill="#000"/>
<rect x="890" y="490" width="3" height="32" fill="#000"/>
<rect x="891" y="491" width="1" height="30" fill="#8ee253"/>
<rect x="895" y="461" width="1" height="29" fill="#000"/>
<rect x="894" y="474" width="3" height="16" fill="#000"/>
<rect x="895" y="475" width="1" height="14" fill="#8ee253"/>
<rect x="900" y="351" width="1" height="131" fill="#000"/>
<rect x="899" y="373" width="3" height="101" fill="#000"/>
<rect x="900" y="374" width="1" height="99" fill="#8ee253"/>
<rect x="905" y="300" width="1" height="91" fill="#000"/>
<rect x="904" y="318" width="3" height="55" fill="#000"/>
<rect x="905" y="319" width="1" height="53" fill="#8ee253"/>
<rect x="910" y="298" width="1" height="73" fill="#000"/>
<rect x="909" y="318" width="3" height="32" fill="#000"/>
<rect x="910" y="319" width="1" height="30" fill="#e80000"/>
<rect x="914" y="313" width="1" height="70" fill="#000"/>
<rect x="913" y="326" width="3" height="24" fill="#000"/>
<rect x="914" y="327" width="1" height="22" fill="#8ee253"/>
<rect x="919" y="247" width="1" height="95" fill="#000"/>
<rect x="918" y="272" width="3" height="54" fill="#000"/>
<rect x="919" y="273" width="1" height="52" fill="#8ee253"/>
<rect x="924" y="262" width="1" height="81" fill="#000"/>
<rect x="923" y="272" width="3" height="1" fill="#000"/>
<rect x="929" y="227" width="1" height="55" fill="#000"/>
<rect x="928" y="255" width="3" height="18" fill="#000"/>
<rect x="929" y="256" width="1" height="16" fill="#8ee253"/>
<rect x="933" y="249" width="1" height="65" fill="#000"/>
<rect x="932" y="255" width="3" height="43" fill="#000"/>
<rect x="933" y="256" width="1" height="41" fill="#e80000"/>
<rect x="938" y="295" width="1" height="66" fill="#000"/>
<rect x="937" y="303" width="3" height="44" fill="#000"/>
<rect x="938" y="304" width="1" height="42" fill="#e80000"/>
<rect x="943" y="326" width="1" height="36" fill="#000"/>
<rect x="942" y="346" width="3" height="6" fill="#000"/>
<rect x="943" y="347" width="1" height="4" fill="#e80000"/>
<rect x="947" y="332" width="1" height="41" fill="#000"/>
<rect x="946" y="352" width="3" height="9" fill="#000"/>
<rect x="947" y="353" width="1" height="7" fill="#e80000"/>
<rect x="952" y="348" width="1" height="43" fill="#000"/>
<rect x="951" y="361" width="3" height="11" fill="#000"/>
<rect x="952" y="362" width="1" height="9" fill="#e80000"/>
<rect x="957" y="354" width="1" height="37" fill="#000"/>
<rect x="956" y="361" width="3" height="11" fill="#000"/>
<rect x="957" y="362" width="1" height="9" fill="#8ee253"/>
<rect x="962" y="358" width="1" height="70" fill="#000"/>
<rect x="961" y="373" width="3" height="40" fill="#000"/>
<rect x="962" y="374" width="1" height="38" fill="#e80000"/>
<rect x="966" y="401" width="1" height="33" fill="#000"/>
<rect x="965" y="413" width="3" height="6" fill="#000"/>
<rect x="966" y="414" width="1" height="4" fill="#e80000"/>
<rect x="971" y="404" width="1" height="49" fill="#000"/>
<rect x="970" y="420" width="3" height="3" fill="#000"/>
<rect x="971" y="421" width="1" height="1" fill="#e80000"/>
<rect x="976" y="402" width="1" height="35" fill="#000"/>
<rect x="975" y="420" width="3" height="3" fill="#000"/>
<rect x="976" y="421" width="1" height="1" fill="#8ee253"/>
<rect x="981" y="392" width="1" height="86" fill="#000"/>
<rect x="980" y="420" width="3" height="50" fill="#000"/>
<rect x="981" y="421" width="1" height="48" fill="#e80000"/>
<rect x="985" y="449" width="1" height="57" fill="#000"/>
<rect x="984" y="471" width="3" height="27" fill="#000"/>
<rect x="985" y="472" width="1" height="25" fill="#e80000"/>
<rect x="990" y="486" width="1" height="32" fill="#000"/>
<rect x="989" y="498" width="3" height="3" fill="#000"/>
<rect x="990" y="499" width="1" height="1" fill="#e80000"/>
<rect x="995" y="493" width="1" height="31" fill="#000"/>
<rect x="994" y="500" width="3" height="2" fill="#000"/>
<rect x="999" y="443" width="1" height="66" fill="#000"/>
<rect x="998" y="454" width="3" height="47" fill="#000"/>
<rect x="999" y="455" width="1" height="45" fill="#8ee253"/>
<rect x="1004" y="408" width="1" height="74" fill="#000"/>
<rect x="1003" y="427" width="3" height="27" fill="#000"/>
<rect x="1004" y="428" width="1" height="25" fill="#8ee253"/>
<rect x="1009" y="415" width="1" height="47" fill="#000"/>
<rect x="1008" y="422" width="3" height="3" fill="#000"/>
<rect x="1009" y="423" width="1" height="1" fill="#8ee253"/>
<rect x="1014" y="401" width="1" height="32" fill="#000"/>
<rect x="1013" y="422" width="3" height="2" fill="#000"/>
<rect x="1018" y="410" width="1" height="48" fill="#000"/>
<rect x="1017" y="424" width="3" height="6" fill="#000"/>
<rect x="1018" y="425" width="1" height="4" fill="#e80000"/>
<rect x="1023" y="311" width="1" height="215" fill="#000"/>
<rect x="1022" y="334" width="3" height="96" fill="#000"/>
<rect x="1023" y="335" width="1" height="94" fill="#8ee253"/>
<rect x="1028" y="316" width="1" height="70" fill="#000"/>
<rect x="1027" y="334" width="3" height="15" fill="#000"/>
<rect x="1028" y="335" width="1" height="13" fill="#e80000"/>
<rect x="1032" y="334" width="1" height="52" fill="#000"/>
<rect x="1031" y="352" width="3" height="23" fill="#000"/>
<rect x="1032" y="353" width="1" height="21" fill="#e80000"/>
<rect x="1037" y="362" width="1" height="28" fill="#000"/>
<rect x="1036" y="370" width="3" height="5" fill="#000"/>
<rect x="1037" y="371" width="1" height="3" fill="#8ee253"/>
<rect x="1042" y="298" width="1" height="100" fill="#000"/>
<rect x="1041" y="309" width="3" height="61" fill="#000"/>
<rect x="1042" y="310" width="1" height="59" fill="#8ee253"/>
<rect x="1047" y="244" width="1" height="75" fill="#000"/>
<rect x="1046" y="258" width="3" height="51" fill="#000"/>
<rect x="1047" y="259" width="1" height="49" fill="#8ee253"/>
<rect x="1051" y="247" width="1" height="45" fill="#000"/>
<rect x="1050" y="258" width="3" height="32" fill="#000"/>
<rect x="1051" y="259" width="1" height="30" fill="#e80000"/>
<rect x="1056" y="275" width="1" height="29" fill="#000"/>
<rect x="1055" y="292" width="3" height="8" fill="#000"/>
<rect x="1056" y="293" width="1" height="6" fill="#e80000"/>
<rect x="1061" y="290" width="1" height="39" fill="#000"/>
<rect x="1060" y="300" width="3" height="13" fill="#000"/>
<rect x="1061" y="301" width="1" height="11" fill="#e80000"/>
<rect x="1066" y="308" width="1" height="36" fill="#000"/>
<rect x="1065" y="313" width="3" height="20" fill="#000"/>
<rect x="1066" y="314" width="1" height="18" fill="#e80000"/>
<rect x="1070" y="328" width="1" height="24" fill="#000"/>
<rect x="1069" y="333" width="3" height="3" fill="#000"/>
<rect x="1070" y="334" width="1" height="1" fill="#e80000"/>
<rect x="1075" y="332" width="1" height="15" fill="#000"/>
<rect x="1074" y="336" width="3" height="4" fill="#000"/>
<rect x="1075" y="337" width="1" height="2" fill="#e80000"/>
<rect x="1080" y="311" width="1" height="36" fill="#000"/>
<rect x="1079" y="324" width="3" height="23" fill="#000"/>
<rect x="1080" y="325" width="1" height="21" fill="#8ee253"/>
<rect x="1084" y="266" width="1" height="73" fill="#000"/>
<rect x="1083" y="273" width="3" height="51" fill="#000"/>
<rect x="1084" y="274" width="1" height="49" fill="#8ee253"/>
<rect x="1089" y="232" width="1" height="44" fill="#000"/>
<rect x="1088" y="248" width="3" height="25" fill="#000"/>
<rect x="1089" y="249" width="1" height="23" fill="#8ee253"/>
<rect x="1094" y="207" width="1" height="55" fill="#000"/>
<rect x="1093" y="226" width="3" height="22" fill="#000"/>
<rect x="1094" y="227" width="1" height="20" fill="#8ee253"/>
<rect x="1099" y="193" width="1" height="57" fill="#000"/>
<rect x="1098" y="220" width="3" height="5" fill="#000"/>
<rect x="1099" y="221" width="1" height="3" fill="#8ee253"/>
<rect x="1103" y="207" width="1" height="30" fill="#000"/>
<rect x="1102" y="220" width="3" height="4" fill="#000"/>
<rect x="1103" y="221" width="1" height="2" fill="#8ee253"/>
<rect x="1108" y="211" width="1" height="37" fill="#000"/>
<rect x="1107" y="222" width="3" height="1" fill="#000"/>
<rect x="1113" y="197" width="1" height="57" fill="#000"/>
<rect x="1112" y="214" width="3" height="9" fill="#000"/>
<rect x="1113" y="215" width="1" height="7" fill="#8ee253"/>
<rect x="1118" y="184" width="1" height="60" fill="#000"/>
<rect x="1117" y="214" width="3" height="12" fill="#000"/>
<rect x="1118" y="215" width="1" height="10" fill="#e80000"/>
<rect x="1122" y="203" width="1" height="38" fill="#000"/>
<rect x="1121" y="214" width="3" height="12" fill="#000"/>
<rect x="1122" y="215" width="1" height="10" fill="#8ee253"/>
<rect x="1127" y="188" width="1" height="55" fill="#000"/>
<rect x="1126" y="210" width="3" height="11" fill="#000"/>
<rect x="1127" y="211" width="1" height="9" fill="#8ee253"/>
<rect x="1132" y="179" width="1" height="65" fill="#000"/>
<rect x="1131" y="210" width="3" height="12" fill="#000"/>
<rect x="1132" y="211" width="1" height="10" fill="#e80000"/>
<rect x="1136" y="220" width="1" height="66" fill="#000"/>
<rect x="1135" y="222" width="3" height="61" fill="#000"/>
<rect x="1136" y="223" width="1" height="59" fill="#e80000"/>
<rect x="1141" y="270" width="1" height="33" fill="#000"/>
<rect x="1140" y="282" width="3" height="4" fill="#000"/>
<rect x="1141" y="283" width="1" height="2" fill="#e80000"/>
<rect x="1146" y="261" width="1" height="37" fill="#000"/>
<rect x="1145" y="276" width="3" height="9" fill="#000"/>
<rect x="1146" y="277" width="1" height="7" fill="#8ee253"/>
<rect x="1151" y="249" width="1" height="33" fill="#000"/>
<rect x="1150" y="262" width="3" height="14" fill="#000"/>
<rect x="1151" y="263" width="1" height="12" fill="#8ee253"/>
<rect x="1155" y="222" width="1" height="44" fill="#000"/>
<rect x="1154" y="236" width="3" height="26" fill="#000"/>
<rect x="1155" y="237" width="1" height="24" fill="#8ee253"/>
<rect x="1160" y="220" width="1" height="52" fill="#000"/>
<rect x="1159" y="237" width="3" height="33" fill="#000"/>
<rect x="1160" y="238" width="1" height="31" fill="#e80000"/>
<rect x="1165" y="214" width="1" height="71" fill="#000"/>
<rect x="1164" y="270" width="3" height="5" fill="#000"/>
<rect x="1165" y="271" width="1" height="3" fill="#e80000"/>
<rect x="1170" y="263" width="1" height="47" fill="#000"/>
<rect x="1169" y="275" width="3" height="33" fill="#000"/>
<rect x="1170" y="276" width="1" height="31" fill="#e80000"/>
<rect x="1174" y="278" width="1" height="35" fill="#000"/>
<rect x="1173" y="285" width="3" height="27" fill="#000"/>
<rect x="1174" y="286" width="1" height="25" fill="#8ee253"/>
<rect x="1179" y="246" width="1" height="46" fill="#000"/>
<rect x="1178" y="270" width="3" height="15" fill="#000"/>
<rect x="1179" y="271" width="1" height="13" fill="#8ee253"/>
<rect x="1184" y="234" width="1" height="50" fill="#000"/>
<rect x="1183" y="256" width="3" height="14" fill="#000"/>
<rect x="1184" y="257" width="1" height="12" fill="#8ee253"/>
<rect x="1188" y="232" width="1" height="38" fill="#000"/>
<rect x="1187" y="240" width="3" height="16" fill="#000"/>
<rect x="1188" y="241" width="1" height="14" fill="#8ee253"/>
<rect x="1193" y="182" width="1" height="61" fill="#000"/>
<rect x="1192" y="187" width="3" height="55" fill="#000"/>
<rect x="1193" y="188" width="1" height="53" fill="#8ee253"/>
<rect x="1198" y="141" width="1" height="58" fill="#000"/>
<rect x="1197" y="141" width="3" height="46" fill="#000"/>
<rect x="1198" y="142" width="1" height="44" fill="#8ee253"/>
<rect x="1203" y="97" width="1" height="66" fill="#000"/>
<rect x="1202" y="141" width="3" height="21" fill="#000"/>
<rect x="1203" y="142" width="1" height="19" fill="#e80000"/>
<rect x="1207" y="144" width="1" height="33" fill="#000"/>
<rect x="1206" y="158" width="3" height="4" fill="#000"/>
<rect x="1207" y="159" width="1" height="2" fill="#8ee253"/>
<rect x="5" y="314" width="1" height="33" fill="#000"/><rect x="5" y="314" width="2" height="1" fill="#000"/>
</g>
<path d="M149.3,370 L154.5,364.3 L159.7,370 Z" fill="#9be36a" stroke="#3f9a2a" stroke-width="0.8"/>
<g shape-rendering="crispEdges"><rect x="165" y="367" width="4" height="1" fill="#000"/></g>
<path d="M5.5,466.9C7.1,463.3 11.0,452.7 15.1,445.6C19.2,438.5 25.4,431.5 30.2,424.2C35.0,416.9 39.4,407.5 44.0,401.6C48.6,395.7 53.6,392.1 57.8,389.0C62.0,385.9 65.3,386.9 69.1,382.7C72.9,378.5 77.1,369.2 80.4,363.9C83.7,358.6 85.6,355.1 89.0,351.0C92.4,346.9 95.8,342.4 100.6,339.5C105.4,336.6 113.1,335.1 118.1,333.5C123.1,331.9 126.7,331.2 130.7,329.7C134.7,328.2 138.2,324.1 142.0,324.7C145.8,325.3 150.2,331.3 153.3,333.5C156.5,335.7 156.7,336.9 160.9,338.0C165.1,339.1 173.5,340.8 178.5,340.2C183.5,339.6 187.2,336.4 191.0,334.7C194.8,332.9 197.7,331.1 201.1,329.7C204.5,328.3 208.3,325.8 211.2,326.4C214.1,327.0 216.2,330.8 218.7,333.5C221.2,336.2 222.7,338.5 226.0,342.5C229.3,346.5 234.6,352.6 238.8,357.6C243.0,362.6 246.8,367.5 251.4,372.7C256.0,377.9 261.1,382.3 266.5,389.0C271.9,395.7 278.2,405.6 284.1,412.9C290.0,420.1 297.3,428.6 301.7,432.5C306.1,436.4 306.8,436.4 310.3,436.6C313.8,436.9 318.0,434.6 322.6,434.0C327.2,433.4 333.5,434.2 337.7,432.7C341.9,431.2 344.8,429.3 347.8,425.2C350.9,421.1 353.1,413.0 356.0,408.0C358.9,403.0 362.2,400.4 365.4,395.0C368.6,389.6 371.8,380.9 375.4,375.9C378.9,370.9 383.3,367.4 386.7,365.1C390.1,362.8 391.5,364.7 395.5,362.1C399.5,359.5 405.6,355.2 410.6,349.5C415.6,343.8 421.5,334.4 425.7,328.1C429.9,321.8 431.9,316.4 435.7,311.8C439.5,307.2 444.1,303.0 448.3,300.5C452.5,298.0 456.7,298.6 460.9,296.7C465.1,294.8 470.1,290.7 473.5,289.2C476.9,287.7 478.5,287.7 481.0,287.9C483.5,288.1 485.8,288.3 488.5,290.4C491.2,292.5 494.6,298.1 497.3,300.5C500.0,302.9 502.2,304.8 504.9,305.0C507.6,305.2 510.8,302.9 513.7,301.7C516.6,300.5 519.1,300.1 522.5,298.0C525.9,295.9 530.0,292.2 533.8,289.2C537.6,286.2 542.2,282.0 545.1,279.9C548.0,277.8 548.7,275.9 551.4,276.6C554.1,277.3 557.2,279.7 561.4,284.1C565.6,288.5 571.5,297.3 576.5,303.0C581.5,308.7 587.0,313.1 591.6,318.1C596.2,323.1 600.4,327.8 604.2,333.2C608.0,338.6 611.6,345.7 614.2,350.7C616.8,355.7 615.7,355.3 620.0,363.3C624.3,371.3 634.6,388.6 640.0,398.9C645.4,409.2 648.4,414.5 652.6,425.2C656.8,435.9 660.9,450.4 665.1,463.0C669.3,475.6 673.9,489.7 677.7,500.7C681.5,511.7 685.5,522.0 688.0,529.0C690.5,536.0 691.2,539.6 693.0,542.6C694.8,545.6 695.9,544.9 699.0,547.0C702.1,549.1 708.5,553.9 711.6,555.0C714.8,556.1 712.5,553.5 717.9,553.5C723.3,553.5 736.3,556.9 744.3,555.2C752.3,553.5 758.8,548.7 765.7,543.4C772.6,538.1 779.1,528.6 785.8,523.3C792.5,518.0 800.9,515.8 805.9,511.6C810.9,507.4 811.4,503.2 816.0,498.2C820.6,493.2 828.2,484.7 833.6,481.8C839.0,478.9 844.0,480.0 848.6,480.6C853.2,481.2 856.8,483.9 861.2,485.6C865.6,487.3 869.3,489.9 875.0,490.6C880.7,491.3 890.0,491.4 895.2,489.9C900.5,488.4 901.3,487.6 906.5,481.8C911.7,476.1 919.7,464.2 926.6,455.4C933.5,446.6 941.5,435.5 948.0,429.0C954.5,422.5 960.1,419.5 965.5,416.5C970.9,413.5 975.6,411.7 980.6,411.0C985.6,410.3 990.6,413.8 995.6,412.5C1000.6,411.2 1004.8,407.9 1010.7,403.5C1016.6,399.1 1023.2,390.7 1030.8,386.0C1038.3,381.3 1048.7,375.8 1056.0,375.4C1063.3,375.0 1069.8,383.1 1074.8,383.6C1079.8,384.1 1081.7,381.9 1086.1,378.3C1090.5,374.7 1096.2,368.3 1101.2,362.0C1106.2,355.7 1110.8,349.6 1116.3,340.6C1121.8,331.6 1128.9,315.9 1133.9,308.0C1138.9,300.1 1141.9,297.9 1146.5,292.9C1151.1,287.9 1157.4,281.2 1161.6,277.8C1165.8,274.4 1167.2,274.3 1171.4,272.3C1175.6,270.3 1182.3,268.1 1186.5,266.0C1190.7,263.9 1193.0,262.8 1196.5,259.7C1200.0,256.6 1205.5,249.2 1207.3,247.1" fill="none" stroke="#f02222" stroke-width="1.15" stroke-linejoin="round"/>
<path d="M5.5,423.0C6.7,417.6 9.8,400.8 12.6,390.3C15.4,379.8 20.2,367.2 22.6,360.1C25.0,353.1 24.9,352.9 27.0,348.0C29.1,343.1 32.2,334.8 35.2,330.9C38.2,327.0 42.1,324.5 45.2,324.7C48.3,324.9 51.4,329.3 54.0,332.2C56.6,335.1 58.3,338.8 61.0,342.0C63.7,345.2 66.1,348.9 70.4,351.3C74.7,353.7 81.9,356.1 86.7,356.3C91.5,356.5 95.3,351.8 99.3,352.6C103.3,353.5 107.7,359.7 110.6,361.4C113.5,363.1 114.4,363.6 116.9,362.6C119.4,361.6 122.6,359.3 125.7,355.5C128.8,351.7 133.2,344.1 135.7,340.0C138.2,335.9 137.9,336.6 140.8,330.9C143.7,325.2 149.5,312.1 153.3,305.8C157.1,299.5 161.1,295.3 163.4,293.2C165.7,291.1 164.7,291.5 167.2,293.2C169.7,294.9 175.8,301.4 178.5,303.3C181.2,305.2 180.2,301.1 183.5,304.5C186.8,307.9 194.0,317.4 198.6,323.4C203.2,329.4 207.2,334.8 211.0,340.5C214.8,346.2 217.2,347.8 221.2,357.6C225.2,367.4 230.0,388.4 235.0,399.1C240.0,409.8 247.4,417.0 251.4,421.7C255.4,426.4 254.7,424.7 258.9,427.2C263.1,429.7 271.5,433.7 276.5,436.8C281.5,439.9 285.1,442.2 289.1,445.6C293.1,449.0 296.6,455.1 300.4,456.9C304.2,458.6 308.4,458.6 311.7,456.1C315.0,453.6 316.9,446.5 320.0,441.8C323.1,437.1 326.0,433.3 330.0,428.0C334.0,422.7 340.0,417.4 344.0,410.0C348.0,402.6 350.4,391.2 354.0,383.4C357.6,375.6 361.8,369.2 365.4,363.3C369.0,357.4 371.6,354.7 375.4,348.2C379.2,341.7 383.2,331.1 388.0,324.4C392.8,317.7 400.5,310.9 404.3,308.0C408.1,305.1 408.3,308.3 410.6,306.8C412.9,305.3 415.2,303.2 418.1,299.2C421.0,295.2 425.1,287.0 428.2,282.9C431.3,278.8 434.7,275.7 437.0,274.6C439.3,273.6 440.1,274.0 442.0,276.6C443.9,279.2 446.4,286.6 448.3,290.4C450.2,294.2 451.2,297.2 453.3,299.2C455.4,301.2 457.5,302.1 460.9,302.5C464.3,302.9 470.4,301.4 473.5,301.7C476.6,302.0 476.8,304.4 479.7,304.2C482.6,304.0 486.3,301.8 491.1,300.5C495.9,299.2 504.0,297.6 508.6,296.7C513.2,295.8 515.6,296.9 518.7,295.4C521.9,293.9 524.6,289.4 527.5,287.9C530.4,286.4 533.4,288.1 536.3,286.6C539.2,285.1 542.6,281.3 545.1,279.1C547.6,276.9 549.1,273.4 551.4,273.6C553.7,273.8 555.5,276.8 558.9,280.4C562.2,284.0 566.5,289.5 571.5,295.4C576.5,301.3 584.1,308.1 589.1,315.6C594.1,323.2 597.9,331.5 601.7,340.7C605.5,349.9 608.7,361.3 611.7,370.9C614.8,380.5 615.3,381.1 620.0,398.5C624.7,415.9 635.0,457.6 640.0,475.5C645.0,493.4 645.8,494.8 650.0,505.7C654.2,516.6 660.9,531.4 665.1,540.9C669.3,550.4 671.9,555.7 675.4,562.9C678.9,570.1 683.0,578.1 686.0,584.0C689.0,589.9 691.2,596.2 693.5,598.1C695.8,600.0 697.6,596.8 700.0,595.5C702.4,594.2 705.3,593.2 708.1,590.5C710.9,587.8 714.2,582.1 716.9,579.2C719.6,576.3 721.7,576.2 724.4,572.9C727.1,569.5 730.5,563.3 733.2,559.1C735.9,554.9 737.9,550.9 740.8,547.8C743.7,544.6 747.0,545.2 750.8,540.2C754.6,535.2 759.6,525.1 763.4,517.6C767.2,510.1 770.6,501.4 773.5,495.0C776.4,488.6 778.5,483.7 780.8,479.3C783.1,474.9 784.6,469.8 787.1,468.5C789.6,467.2 791.5,469.9 795.9,471.8C800.3,473.7 808.5,477.3 813.5,479.8C818.5,482.3 822.5,485.2 826.0,486.8C829.5,488.4 831.4,489.4 834.8,489.4C838.1,489.4 842.8,487.0 846.1,486.8C849.5,486.6 851.5,486.4 854.9,488.1C858.2,489.8 862.6,494.8 866.2,496.9C869.8,499.0 872.5,500.0 876.3,500.7C880.1,501.4 885.5,501.8 888.9,501.2C892.2,500.6 892.6,501.6 896.4,496.9C900.2,492.2 906.5,482.9 911.5,473.0C916.5,463.1 922.4,446.6 926.6,437.8C930.8,429.0 932.8,426.5 936.6,420.2C940.4,413.9 946.1,405.6 949.2,400.1C952.3,394.6 951.9,391.6 955.4,387.1C958.9,382.6 966.1,376.4 970.5,373.3C974.9,370.2 978.4,368.9 981.8,368.3C985.1,367.8 987.5,367.7 990.6,370.0C993.8,372.3 997.4,378.2 1000.7,382.1C1004.1,386.0 1007.4,389.2 1010.7,393.4C1014.1,397.6 1017.4,403.7 1020.8,407.3C1024.1,410.9 1027.9,413.4 1030.8,414.8C1033.7,416.2 1035.9,416.6 1038.4,416.0C1040.9,415.4 1043.0,413.7 1045.9,411.0C1048.8,408.3 1051.8,404.7 1056.0,399.7C1060.2,394.7 1066.8,386.5 1071.0,380.9C1075.2,375.2 1077.7,372.5 1081.1,365.8C1084.5,359.1 1087.8,348.8 1091.2,340.6C1094.6,332.4 1097.4,324.8 1101.2,316.8C1105.0,308.9 1109.8,299.8 1113.8,292.9C1117.8,286.0 1122.0,279.9 1125.1,275.3C1128.2,270.7 1129.4,267.0 1132.6,265.2C1135.8,263.4 1140.4,265.5 1144.0,264.7C1147.6,263.9 1150.7,262.2 1154.0,260.2C1157.3,258.2 1160.9,254.5 1164.1,252.7C1167.2,250.9 1168.7,250.1 1172.9,249.4C1177.1,248.7 1184.9,249.4 1189.2,248.4C1193.5,247.4 1196.0,245.1 1199.0,243.4C1202.0,241.7 1205.9,239.2 1207.3,238.3" fill="none" stroke="#3448a6" stroke-width="2.05" stroke-linejoin="round" stroke-linecap="round"/>
<path d="M81.7,0.0C85.7,4.2 96.6,16.3 105.6,25.1C114.6,33.9 124.4,42.1 135.7,52.8C147.0,63.5 161.3,77.9 173.5,89.2C185.7,100.5 196.9,109.6 208.6,120.7C220.3,131.8 231.7,143.8 243.8,155.9C255.9,168.0 271.4,183.2 281.0,193.0C290.6,202.8 294.1,207.9 301.5,214.5C308.9,221.1 317.4,227.1 325.1,232.6C332.8,238.1 340.9,243.1 347.8,247.7C354.7,252.3 360.1,255.8 366.6,260.2C373.1,264.6 378.9,268.7 386.7,274.1C394.4,279.6 404.5,287.0 413.1,292.9C421.7,298.8 430.3,304.3 438.3,309.3C446.3,314.3 453.1,318.7 460.9,323.1C468.6,327.5 476.9,331.5 484.8,335.7C492.8,339.9 501.7,345.1 508.6,348.2C515.5,351.2 519.1,351.9 526.2,354.0C533.3,356.1 543.0,358.5 551.4,360.8C559.8,363.1 570.2,366.1 576.5,367.6C582.8,369.1 584.9,368.8 589.1,369.6C593.3,370.4 596.6,370.9 601.7,372.6C606.9,374.3 613.6,377.3 620.0,379.7C626.4,382.1 628.3,382.1 640.0,387.0C651.7,391.9 677.7,404.6 690.3,408.9C702.9,413.2 707.0,412.5 715.4,412.7C723.8,412.9 732.2,411.3 740.6,410.2C749.0,409.1 756.5,406.6 765.7,405.9C774.9,405.2 787.5,405.9 795.9,405.9C804.3,405.8 808.5,405.9 816.0,405.6C823.5,405.4 832.7,405.1 841.1,404.4C849.5,403.7 857.8,402.1 866.2,401.4C874.6,400.7 881.8,400.5 891.4,400.1C901.0,399.7 915.6,399.0 924.0,398.9C932.4,398.8 936.5,399.2 941.7,399.6C946.9,400.0 947.2,400.7 955.4,401.5C963.5,402.3 978.0,403.9 990.6,404.5C1003.2,405.1 1018.2,404.8 1030.8,405.2C1043.4,405.6 1057.0,406.3 1066.0,406.7C1075.0,407.1 1078.3,408.1 1085.0,407.8C1091.7,407.6 1098.5,406.3 1106.2,405.2C1113.9,404.1 1123.0,402.5 1131.4,401.2C1139.8,399.9 1148.1,398.9 1156.5,397.4C1164.9,395.9 1174.5,393.6 1181.7,392.0C1189.0,390.4 1195.7,388.8 1200.0,387.7C1204.3,386.6 1206.2,385.9 1207.4,385.5" fill="none" stroke="#0a0a0a" stroke-width="2.3" stroke-linejoin="round" stroke-linecap="round"/>
<line x1="280.3" y1="529.8" x2="471.7" y2="260.2" stroke="#0a0a0a" stroke-width="2.2"/>
<line x1="797.3" y1="597" x2="884.3" y2="439.6" stroke="#14622f" stroke-width="2.3"/>
<g shape-rendering="crispEdges" fill="#e60000">
<rect x="0" y="159" width="1220" height="2"/>
<rect x="0" y="192" width="1220" height="2"/>
</g>
<line x1="0" y1="157.5" x2="1220" y2="157.5" stroke="#e60000" stroke-width="1" stroke-dasharray="1 1" shape-rendering="crispEdges"/>
<line x1="423" y1="251.4" x2="1206.6" y2="250.2" stroke="#e60000" stroke-width="1.8"/>
<g shape-rendering="crispEdges"><rect x="1207" y="144" width="1" height="33" fill="#000"/><rect x="1206" y="158" width="3" height="4" fill="#000"/><rect x="1207" y="159" width="1" height="2" fill="#b8e05a"/></g>
</g>
<g shape-rendering="crispEdges" fill="#000">
<rect x="1222" y="0" width="1" height="776"/>
<rect x="1222" y="25" width="4" height="1"/>
<rect x="1222" y="52" width="6" height="1"/>
<rect x="1222" y="79" width="4" height="1"/>
<rect x="1222" y="105" width="6" height="1"/>
<rect x="1222" y="132" width="4" height="1"/>
<rect x="1222" y="159" width="6" height="1"/>
<rect x="1222" y="186" width="4" height="1"/>
<rect x="1222" y="213" width="6" height="1"/>
<rect x="1222" y="240" width="4" height="1"/>
<rect x="1222" y="267" width="6" height="1"/>
<rect x="1222" y="294" width="4" height="1"/>
<rect x="1222" y="321" width="6" height="1"/>
<rect x="1222" y="348" width="4" height="1"/>
<rect x="1222" y="375" width="6" height="1"/>
<rect x="1222" y="401" width="4" height="1"/>
<rect x="1222" y="428" width="6" height="1"/>
<rect x="1222" y="455" width="4" height="1"/>
<rect x="1222" y="482" width="6" height="1"/>
<rect x="1222" y="509" width="4" height="1"/>
<rect x="1222" y="536" width="6" height="1"/>
<rect x="1222" y="563" width="4" height="1"/>
<rect x="1222" y="590" width="6" height="1"/>
<rect x="1222" y="617" width="4" height="1"/>
<rect x="1222" y="644" width="6" height="1"/>
<rect x="1222" y="671" width="4" height="1"/>
<rect x="1222" y="697" width="6" height="1"/>
<rect x="1222" y="724" width="4" height="1"/>
</g>
<g font-size="11" fill="#000">
<text x="1231" y="57" textLength="38" lengthAdjust="spacingAndGlyphs">1,17000</text>
<text x="1231" y="110" textLength="38" lengthAdjust="spacingAndGlyphs">1,16000</text>
<text x="1231" y="164" textLength="38" lengthAdjust="spacingAndGlyphs">1,15000</text>
<text x="1231" y="218" textLength="38" lengthAdjust="spacingAndGlyphs">1,14000</text>
<text x="1231" y="272" textLength="38" lengthAdjust="spacingAndGlyphs">1,13000</text>
<text x="1231" y="326" textLength="38" lengthAdjust="spacingAndGlyphs">1,12000</text>
<text x="1231" y="380" textLength="38" lengthAdjust="spacingAndGlyphs">1,11000</text>
<text x="1231" y="433" textLength="38" lengthAdjust="spacingAndGlyphs">1,10000</text>
<text x="1231" y="487" textLength="38" lengthAdjust="spacingAndGlyphs">1,09000</text>
<text x="1231" y="541" textLength="38" lengthAdjust="spacingAndGlyphs">1,08000</text>
<text x="1231" y="595" textLength="38" lengthAdjust="spacingAndGlyphs">1,07000</text>
<text x="1231" y="649" textLength="38" lengthAdjust="spacingAndGlyphs">1,06000</text>
<text x="1231" y="702" textLength="38" lengthAdjust="spacingAndGlyphs">1,05000</text>
</g>
<rect x="1224.5" y="152.5" width="47" height="17" fill="#cfcfbf" stroke="#000" stroke-width="1"/>
<rect x="1226" y="151" width="48" height="18" fill="#4a4a4a" opacity="0.75"/><path d="M1224.5,149.5 H1271.5 V166.5 H1224.5 V161 L1222,158.5 L1224.5,156 Z" fill="#f6f6de" stroke="#000" stroke-width="1"/><text x="1228" y="162" font-size="11" fill="#f00000" textLength="38" lengthAdjust="spacingAndGlyphs">1,15038</text>
<rect x="1226" y="187" width="48" height="18" fill="#4a4a4a" opacity="0.75"/><path d="M1224.5,185.5 H1271.5 V202.5 H1224.5 V197 L1222,194.5 L1224.5,192 Z" fill="#f6f6de" stroke="#000" stroke-width="1"/><text x="1228" y="198" font-size="11" fill="#000" textLength="38" lengthAdjust="spacingAndGlyphs">1,14380</text>
<g shape-rendering="crispEdges">
<rect x="0" y="747" width="1222" height="14" fill="#fff"/>
<rect x="0" y="762" width="1222" height="14" fill="#ececec"/>
<rect x="0" y="746" width="1222" height="1" fill="#000"/>
<rect x="0" y="761" width="1222" height="1" fill="#000"/>
<rect x="69" y="746" width="1" height="16" fill="#000"/>
<rect x="173" y="746" width="1" height="16" fill="#000"/>
<rect x="281" y="746" width="1" height="16" fill="#000"/>
<rect x="381" y="746" width="1" height="16" fill="#000"/>
<rect x="484" y="746" width="1" height="16" fill="#000"/>
<rect x="588" y="746" width="1" height="16" fill="#000"/>
<rect x="688" y="746" width="1" height="16" fill="#000"/>
<rect x="796" y="746" width="1" height="16" fill="#000"/>
<rect x="891" y="746" width="1" height="16" fill="#000"/>
<rect x="990" y="746" width="1" height="16" fill="#000"/>
<rect x="1099" y="746" width="1" height="16" fill="#000"/>
<rect x="1198" y="746" width="1" height="16" fill="#000"/>
<rect x="796" y="746" width="1" height="30" fill="#000"/>
</g>
<g font-size="11" fill="#000" text-anchor="middle">
<text x="36.4" y="758">máj.</text>
<text x="120.2" y="758">jún.</text>
<text x="226.2" y="758">júl.</text>
<text x="330.2" y="758">aug.</text>
<text x="431.7" y="758">szept.</text>
<text x="535.2" y="758">okt.</text>
<text x="637.2" y="758">nov.</text>
<text x="741.2" y="758">dec.</text>
<text x="842.7" y="758">jan.</text>
<text x="939.7" y="758">febr.</text>
<text x="1043.7" y="758">márc.</text>
<text x="1147.7" y="758">ápr.</text>
<text x="400.9" y="773">2015</text><text x="1007.4" y="773">2016</text>
</g>
<text x="2.8" y="744" font-size="9" fill="#949494" textLength="83.7" lengthAdjust="spacing">TÁJÉKOZTATÓ ÁR</text>
<text x="96.3" y="744" font-size="9" fill="#949494" textLength="58.2" lengthAdjust="spacingAndGlyphs">Időzóna: GMT</text>
<rect x="10.5" y="8.5" width="15" height="15" fill="url(#gfx)" stroke="#44504f" stroke-width="1"/>
<path d="M11,16.5 L25,11.5 L25,9 L11,9 Z" fill="#fff" opacity="0.22"/>
<text x="12.5" y="20.3" font-size="11.5" font-weight="bold" fill="#fff" textLength="11" lengthAdjust="spacingAndGlyphs">Fx</text>
<rect x="26.5" y="12" width="59.5" height="14" fill="#fff" opacity="0.65"/><text x="30.5" y="21" font-size="11" fill="#000" textLength="39" lengthAdjust="spacingAndGlyphs">EURUSD</text><path d="M76,14.2 h6 l-3,3.8 Z" fill="#000"/>
<rect x="92.5" y="12" width="106.5" height="14" fill="#fff" opacity="0.65"/><text x="96.5" y="21" font-size="11" fill="#3a4da6" textLength="86" lengthAdjust="spacingAndGlyphs">SMA 20 (EURUSD)</text><path d="M189,14.2 h6 l-3,3.8 Z" fill="#000"/>
<rect x="205.5" y="12" width="106.5" height="14" fill="#fff" opacity="0.65"/><text x="209.5" y="21" font-size="11" fill="#f00000" textLength="87" lengthAdjust="spacingAndGlyphs">SMA 30 (EURUSD)</text><path d="M302,14.2 h6 l-3,3.8 Z" fill="#000"/>
<rect x="318.5" y="12" width="112.5" height="14" fill="#fff" opacity="0.65"/><text x="322.5" y="21" font-size="11" fill="#000" textLength="93" lengthAdjust="spacingAndGlyphs">SMA 200 (EURUSD)</text><path d="M421,14.2 h6 l-3,3.8 Z" fill="#000"/>
<rect x="1199" y="10" width="19" height="16" fill="#fff" opacity="0.6"/>
<path d="M1201,24.7 L1203.8,16.1 L1207.6,17.8 L1209.1,12.1 L1215.1,12.1 L1209.6,20.6 L1206,19.4 Z" fill="url(#gic)"/>
<rect x="79.5" y="607.5" width="113" height="124" fill="#fff" fill-opacity="0.86" stroke="#9a9a9a" stroke-width="1"/>
<text x="87.3" y="623" font-size="11" font-weight="bold" fill="#000" textLength="74.3" lengthAdjust="spacingAndGlyphs">EURUSD (Bid)</text>
<text x="90" y="636" font-size="11" fill="#000" textLength="64" lengthAdjust="spacingAndGlyphs">04-máj.-2016</text>
<text x="90.6" y="649.0" font-size="11" fill="#000" textLength="29.4" lengthAdjust="spacingAndGlyphs">Nyitás</text>
<text x="146.1" y="649.0" font-size="11" fill="#000" textLength="38.1" lengthAdjust="spacingAndGlyphs">1,14959</text>
<text x="90.6" y="662.0" font-size="11" fill="#000" textLength="43.5" lengthAdjust="spacingAndGlyphs">Maximum</text>
<text x="146.1" y="662.0" font-size="11" fill="#000" textLength="38.1" lengthAdjust="spacingAndGlyphs">1,15291</text>
<text x="90.6" y="675.0" font-size="11" fill="#000" textLength="39.5" lengthAdjust="spacingAndGlyphs">Minimum</text>
<text x="146.1" y="675.0" font-size="11" fill="#000" textLength="38.1" lengthAdjust="spacingAndGlyphs">1,14683</text>
<text x="90.6" y="688.0" font-size="11" fill="#000" textLength="37.6" lengthAdjust="spacingAndGlyphs">Bezárás</text>
<text x="146.1" y="688.0" font-size="11" fill="#f00000" textLength="38.1" lengthAdjust="spacingAndGlyphs">1,15038</text>
<text x="90.6" y="701.0" font-size="11" fill="#3a4da6" textLength="35.7" lengthAdjust="spacingAndGlyphs">SMA 20</text>
<text x="146.1" y="701.0" font-size="11" fill="#000" textLength="38.1" lengthAdjust="spacingAndGlyphs">1,13535</text>
<text x="90.6" y="714.0" font-size="11" fill="#f00000" textLength="35.7" lengthAdjust="spacingAndGlyphs">SMA 30</text>
<text x="146.1" y="714.0" font-size="11" fill="#000" textLength="38.1" lengthAdjust="spacingAndGlyphs">1,13388</text>
<text x="90.6" y="727.0" font-size="11" fill="#000" textLength="41.6" lengthAdjust="spacingAndGlyphs">SMA 200</text>
<text x="146.1" y="727.0" font-size="11" fill="#000" textLength="38.1" lengthAdjust="spacingAndGlyphs">1,10801</text>
</svg></body></html>
